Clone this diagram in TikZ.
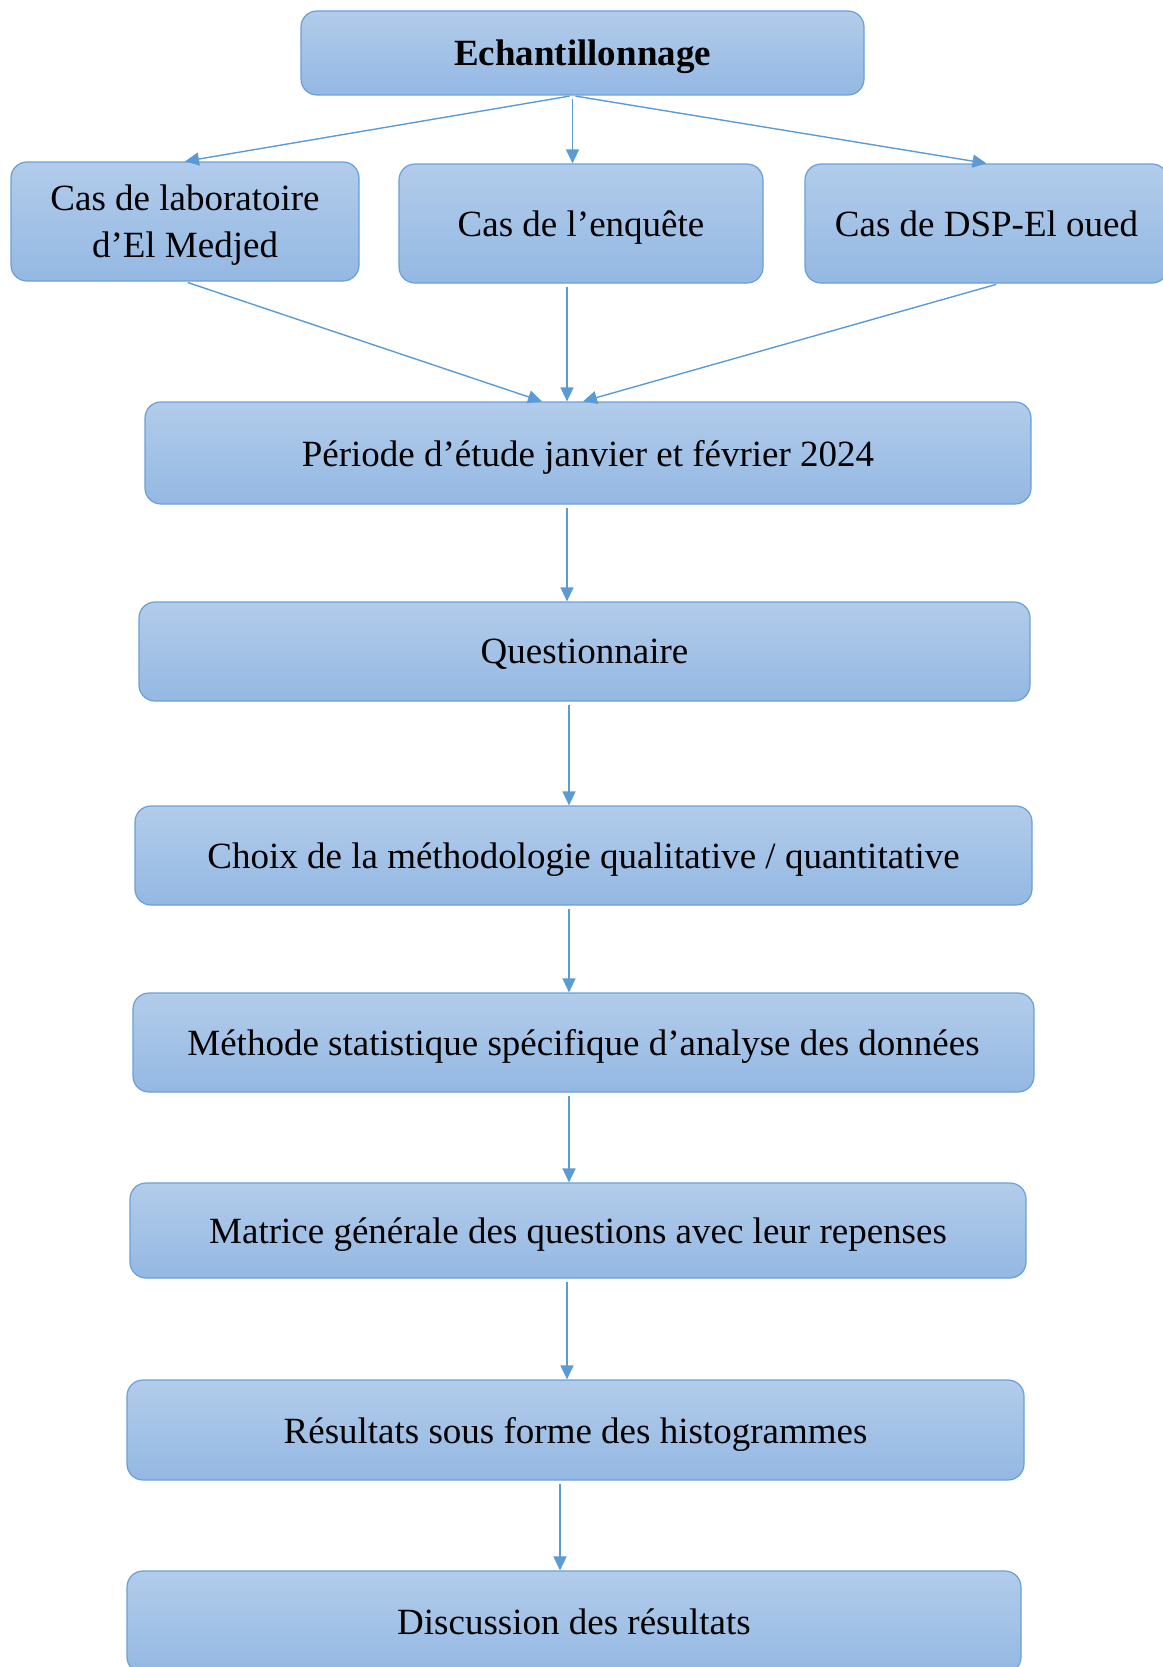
\documentclass[tikz,border=0pt]{standalone}
\usepackage{fontspec}
\setmainfont{Liberation Serif}
\usetikzlibrary{positioning, arrows.meta}
\definecolor{bordbleu}{HTML}{6A9FD8}
\definecolor{flechebleu}{HTML}{5B9BD5}
\definecolor{hautbleu}{HTML}{B2CCEA}
\definecolor{basbleu}{HTML}{94B8E3}

\begin{document}
\begin{tikzpicture}[
    x=1pt, y=-1pt,
    etape/.style={draw=bordbleu, line width=1.2pt, rounded corners=16pt,
        top color=hautbleu, bottom color=basbleu, align=center,
        font=\fontsize{37}{47}\selectfont, inner sep=0pt, text depth=0pt},
    fleche/.style={-{Triangle[length=14pt, width=13pt]}, draw=flechebleu,
        line width=1.4pt, shorten <=3pt}
]
    \useasboundingbox (0,0) rectangle (1162,1667);

    \node[etape, minimum width=563pt, minimum height=84pt,
          font=\fontsize{37}{47}\selectfont\bfseries] (echant) at (582.5,53) {Echantillonnage};
    \node[etape, minimum width=348pt, minimum height=119pt] (labo)    at (185,221.5)   {Cas de laboratoire\\d’El Medjed};
    \node[etape, minimum width=364pt, minimum height=119pt] (enquete) at (581,223.5)   {Cas de l’enquête};
    \node[etape, minimum width=363pt, minimum height=119pt] (dsp)     at (986.5,223.5) {Cas de DSP-El oued};

    \node[etape, minimum width=886pt, minimum height=102pt] (periode)   at (588,453)      {Période d’étude janvier et février 2024};
    \node[etape, minimum width=891pt, minimum height=99pt]  (quest)     at (584.5,651.5)  {Questionnaire};
    \node[etape, minimum width=897pt, minimum height=99pt]  (choix)     at (583.5,855.5)  {Choix de la méthodologie qualitative / quantitative};
    \node[etape, minimum width=901pt, minimum height=99pt]  (methode)   at (583.5,1042.5) {Méthode statistique spécifique d’analyse des données};
    \node[etape, minimum width=896pt, minimum height=95pt]  (matrice)   at (578,1230.5)   {Matrice générale des questions avec leur repenses};
    \node[etape, minimum width=897pt, minimum height=100pt] (resultats) at (575.5,1430)   {Résultats sous forme des histogrammes};
    \node[etape, minimum width=894pt, minimum height=102pt] (discussion) at (574,1622)    {Discussion des résultats};

    \draw[fleche] ([xshift=-10pt]echant.south) -- (labo.north);
    \draw[fleche] ([xshift=-10pt]echant.south) -- ([xshift=-10pt]echant.south |- enquete.north);
    \draw[fleche] ([xshift=-10pt]echant.south) -- (dsp.north);

    \draw[fleche] (labo.south) -- ([xshift=-46pt]periode.north);
    \draw[fleche] ([xshift=-14pt]enquete.south) -- ([xshift=-14pt]enquete.south |- periode.north);
    \draw[fleche] ([xshift=12.5pt]dsp.south) -- ([xshift=-5pt]periode.north);

    \draw[fleche] ([xshift=-21pt]periode.south) -- ([xshift=-21pt]periode.south |- quest.north);
    \draw[fleche] ([xshift=-15.5pt]quest.south) -- ([xshift=-15.5pt]quest.south |- choix.north);
    \draw[fleche] ([xshift=-14.5pt]choix.south) -- ([xshift=-14.5pt]choix.south |- methode.north);
    \draw[fleche] ([xshift=-14.5pt]methode.south) -- ([xshift=-14.5pt]methode.south |- matrice.north);
    \draw[fleche] ([xshift=-11pt]matrice.south) -- ([xshift=-11pt]matrice.south |- resultats.north);
    \draw[fleche] ([xshift=-15.5pt]resultats.south) -- ([xshift=-15.5pt]resultats.south |- discussion.north);
\end{tikzpicture}
\end{document}
